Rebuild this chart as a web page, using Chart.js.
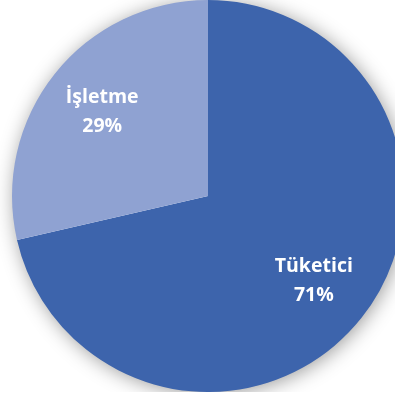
<!DOCTYPE html>
<html>
<head>
<meta charset="utf-8">
<script src="https://cdn.jsdelivr.net/npm/chart.js@4/dist/chart.umd.min.js"></script>
<style>
  html, body { margin: 0; padding: 0; background: #fff; }
  #wrap { width: 395px; height: 396px; overflow: hidden; position: relative; }
  #pie { position: absolute; left: 0; top: 0; }
</style>
</head>
<body>
<div id="wrap"><canvas id="pie" width="416" height="392"></canvas></div>
<script>
// --- Data ---
const labels = ['Tüketici', 'İşletme'];
const values = [71.4, 28.6];
const colors = ['#3d64ac', '#8fa2d2'];

// soft shadow under the pie
const pieShadow = {
  id: 'pieShadow',
  beforeDatasetsDraw(chart) {
    const arc = chart.getDatasetMeta(0).data[0];
    if (!arc) return;
    const { ctx } = chart;
    ctx.save();
    ctx.shadowColor = 'rgba(0,0,0,0.42)';
    ctx.shadowBlur = 20;
    ctx.shadowOffsetX = 2;
    ctx.shadowOffsetY = 2;
    ctx.fillStyle = '#ffffff';
    ctx.beginPath();
    ctx.arc(arc.x, arc.y, arc.outerRadius - 1, 0, Math.PI * 2);
    ctx.fill();
    ctx.restore();
  }
};

// category name + percent inside each slice
const sliceLabels = {
  id: 'sliceLabels',
  afterDatasetsDraw(chart) {
    const { ctx } = chart;
    const meta = chart.getDatasetMeta(0);
    const total = values.reduce((a, b) => a + b, 0);
    ctx.save();
    ctx.fillStyle = '#ffffff';
    ctx.font = 'bold 19.5px "Open Sans", sans-serif';
    ctx.textAlign = 'center';
    ctx.textBaseline = 'middle';
    meta.data.forEach((arc, i) => {
      const mid = (arc.startAngle + arc.endAngle) / 2;
      const r = arc.outerRadius * 0.69;
      const x = arc.x + Math.cos(mid) * r;
      const y = arc.y + Math.sin(mid) * r;
      ctx.fillText(labels[i], x, y - 14);
      ctx.fillText(Math.round(values[i] / total * 100) + '%', x, y + 15);
    });
    ctx.restore();
  }
};

new Chart(document.getElementById('pie'), {
  type: 'pie',
  data: {
    labels: labels,
    datasets: [{
      data: values,
      backgroundColor: colors,
      borderWidth: 0,
    }],
  },
  options: {
    responsive: false,
    animation: false,
    layout: { padding: 0 },
    plugins: {
      legend: { display: false },
      tooltip: { enabled: false },
    },
  },
  plugins: [pieShadow, sliceLabels],
});
</script>
</body>
</html>
